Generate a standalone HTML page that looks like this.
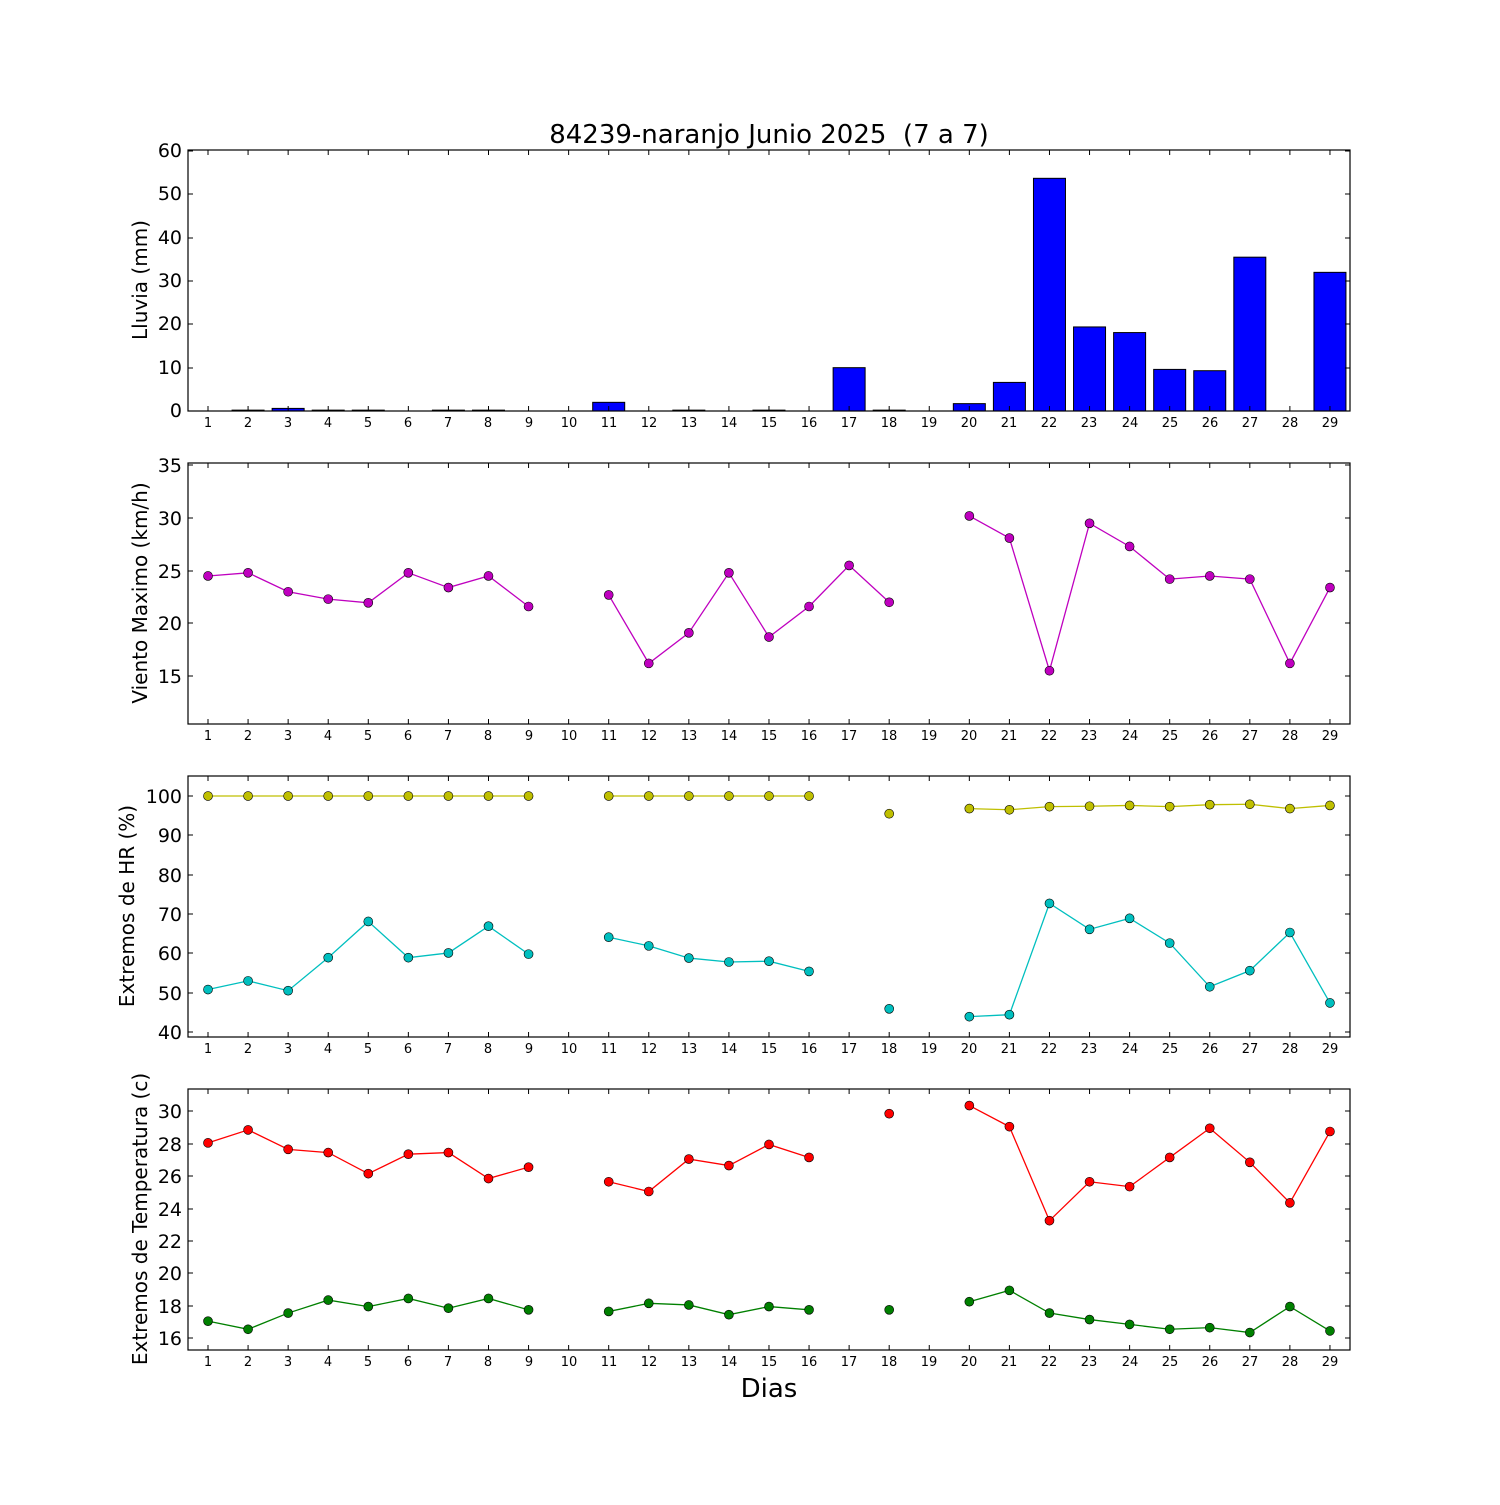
<!DOCTYPE html>
<html><head><meta charset="utf-8"><style>
html,body{margin:0;padding:0;background:#fff;}
svg text{font-family:"DejaVu Sans","Liberation Sans",sans-serif;fill:#000;}
.xt{font-size:13px;text-anchor:middle;}
.yt{font-size:19px;text-anchor:end;}
</style></head><body>
<svg id="s" width="1500" height="1500" xmlns="http://www.w3.org/2000/svg">
<rect width="1500" height="1500" fill="#fff"/>
<g id="data"></g>
<g fill="none" stroke="#000" stroke-width="1.2">
<rect x="188" y="150" width="1162" height="261"/>
<rect x="188" y="463" width="1162" height="261"/>
<rect x="188" y="776" width="1162" height="261"/>
<rect x="188" y="1089" width="1162" height="261"/>
</g>
<g id="ticks" stroke="#000" stroke-width="1"></g>
<text x="769" y="143" style="font-size:26px;white-space:pre" xml:space="preserve" text-anchor="middle">84239-naranjo Junio 2025  (7 a 7)</text>
<text x="769" y="1397" style="font-size:26px" text-anchor="middle">Dias</text>
<text transform="translate(147,280) rotate(-90)" style="font-size:20px" text-anchor="middle">Lluvia (mm)</text>
<text transform="translate(147,593) rotate(-90)" style="font-size:20px" text-anchor="middle">Viento Maximo (km/h)</text>
<text transform="translate(134,906) rotate(-90)" style="font-size:20px" text-anchor="middle">Extremos de HR (%)</text>
<text transform="translate(147,1219) rotate(-90)" style="font-size:20px" text-anchor="middle">Extremos de Temperatura (c)</text>
<g class="yt">
<text x="182" y="417">0</text><text x="182" y="374">10</text><text x="182" y="330">20</text><text x="182" y="287">30</text><text x="182" y="244">40</text><text x="182" y="200">50</text><text x="182" y="157">60</text>
<text x="182" y="683">15</text><text x="182" y="630">20</text><text x="182" y="578">25</text><text x="182" y="525">30</text><text x="182" y="472">35</text>
<text x="182" y="1039">40</text><text x="182" y="1000">50</text><text x="182" y="960">60</text><text x="182" y="921">70</text><text x="182" y="882">80</text><text x="182" y="842">90</text><text x="182" y="803">100</text>
<text x="182" y="1345">16</text><text x="182" y="1313">18</text><text x="182" y="1280">20</text><text x="182" y="1248">22</text><text x="182" y="1216">24</text><text x="182" y="1183">26</text><text x="182" y="1151">28</text><text x="182" y="1118">30</text>
</g>
<text class="xt" y="427"><tspan x="208">1</tspan><tspan x="248">2</tspan><tspan x="288">3</tspan><tspan x="328">4</tspan><tspan x="368">5</tspan><tspan x="408">6</tspan><tspan x="448">7</tspan><tspan x="488">8</tspan><tspan x="529">9</tspan><tspan x="569">10</tspan><tspan x="609">11</tspan><tspan x="649">12</tspan><tspan x="689">13</tspan><tspan x="729">14</tspan><tspan x="769">15</tspan><tspan x="809">16</tspan><tspan x="849">17</tspan><tspan x="889">18</tspan><tspan x="929">19</tspan><tspan x="969">20</tspan><tspan x="1009">21</tspan><tspan x="1049">22</tspan><tspan x="1089">23</tspan><tspan x="1130">24</tspan><tspan x="1170">25</tspan><tspan x="1210">26</tspan><tspan x="1250">27</tspan><tspan x="1290">28</tspan><tspan x="1330">29</tspan></text>
<text class="xt" y="740"><tspan x="208">1</tspan><tspan x="248">2</tspan><tspan x="288">3</tspan><tspan x="328">4</tspan><tspan x="368">5</tspan><tspan x="408">6</tspan><tspan x="448">7</tspan><tspan x="488">8</tspan><tspan x="529">9</tspan><tspan x="569">10</tspan><tspan x="609">11</tspan><tspan x="649">12</tspan><tspan x="689">13</tspan><tspan x="729">14</tspan><tspan x="769">15</tspan><tspan x="809">16</tspan><tspan x="849">17</tspan><tspan x="889">18</tspan><tspan x="929">19</tspan><tspan x="969">20</tspan><tspan x="1009">21</tspan><tspan x="1049">22</tspan><tspan x="1089">23</tspan><tspan x="1130">24</tspan><tspan x="1170">25</tspan><tspan x="1210">26</tspan><tspan x="1250">27</tspan><tspan x="1290">28</tspan><tspan x="1330">29</tspan></text>
<text class="xt" y="1053"><tspan x="208">1</tspan><tspan x="248">2</tspan><tspan x="288">3</tspan><tspan x="328">4</tspan><tspan x="368">5</tspan><tspan x="408">6</tspan><tspan x="448">7</tspan><tspan x="488">8</tspan><tspan x="529">9</tspan><tspan x="569">10</tspan><tspan x="609">11</tspan><tspan x="649">12</tspan><tspan x="689">13</tspan><tspan x="729">14</tspan><tspan x="769">15</tspan><tspan x="809">16</tspan><tspan x="849">17</tspan><tspan x="889">18</tspan><tspan x="929">19</tspan><tspan x="969">20</tspan><tspan x="1009">21</tspan><tspan x="1049">22</tspan><tspan x="1089">23</tspan><tspan x="1130">24</tspan><tspan x="1170">25</tspan><tspan x="1210">26</tspan><tspan x="1250">27</tspan><tspan x="1290">28</tspan><tspan x="1330">29</tspan></text>
<text class="xt" y="1366"><tspan x="208">1</tspan><tspan x="248">2</tspan><tspan x="288">3</tspan><tspan x="328">4</tspan><tspan x="368">5</tspan><tspan x="408">6</tspan><tspan x="448">7</tspan><tspan x="488">8</tspan><tspan x="529">9</tspan><tspan x="569">10</tspan><tspan x="609">11</tspan><tspan x="649">12</tspan><tspan x="689">13</tspan><tspan x="729">14</tspan><tspan x="769">15</tspan><tspan x="809">16</tspan><tspan x="849">17</tspan><tspan x="889">18</tspan><tspan x="929">19</tspan><tspan x="969">20</tspan><tspan x="1009">21</tspan><tspan x="1049">22</tspan><tspan x="1089">23</tspan><tspan x="1130">24</tspan><tspan x="1170">25</tspan><tspan x="1210">26</tspan><tspan x="1250">27</tspan><tspan x="1290">28</tspan><tspan x="1330">29</tspan></text>
</svg>
<script>
var NS="http://www.w3.org/2000/svg";
function el(p,t,a){var e=document.createElementNS(NS,t);for(var k in a)e.setAttribute(k,a[k]);p.appendChild(e);return e;}
var D=document.getElementById("data"),T=document.getElementById("ticks");
function X(d){return 208+40.07*(d-1);}
var N=null;
var rain=[0,0.2,0.6,0.2,0.2,0,0.2,0.2,0,0,2,0,0.2,0,0.2,0,10,0.2,0,1.7,6.6,53.7,19.4,18.1,9.6,9.3,35.5,0,32];
rain.forEach(function(v,i){if(v>0){var h=v*4.333;el(D,"rect",{x:X(i+1)-16,y:411-h,width:32,height:h,fill:"#0000ff",stroke:"#000","stroke-width":1});}});
var wind=[24.5,24.8,23,22.3,21.95,24.8,23.4,24.5,21.6,N,22.7,16.2,19.1,24.8,18.7,21.6,25.5,22,N,30.2,28.1,15.5,29.5,27.3,24.2,24.5,24.2,16.2,23.4];
var hmax=[100,100,100,100,100,100,100,100,100,N,100,100,100,100,100,100,N,95.5,N,96.8,96.5,97.3,97.4,97.6,97.3,97.8,97.9,96.8,97.6];
var hmin=[50.8,53,50.5,58.9,68.1,58.9,60.1,66.9,59.8,N,64.1,61.9,58.8,57.8,58,55.4,N,45.9,N,43.9,44.4,72.7,66.1,68.9,62.6,51.5,55.6,65.3,47.4];
var tmax=[28.1,28.9,27.7,27.5,26.2,27.4,27.5,25.9,26.6,N,25.7,25.1,27.1,26.7,28,27.2,N,29.9,N,30.4,29.1,23.3,25.7,25.4,27.2,29,26.9,24.4,28.8];
var tmin=[17.1,16.6,17.6,18.4,18,18.5,17.9,18.5,17.8,N,17.7,18.2,18.1,17.5,18,17.8,N,17.8,N,18.3,19,17.6,17.2,16.9,16.6,16.7,16.4,18,16.5];
function series(arr,fy,col){
 var seg=[];
 function flush(){if(seg.length>1)el(D,"polyline",{points:seg.join(" "),fill:"none",stroke:col,"stroke-width":1.3});seg=[];}
 arr.forEach(function(v,i){if(v===N){flush();}else seg.push(X(i+1)+","+fy(v));});flush();
 arr.forEach(function(v,i){if(v!==N)el(D,"circle",{cx:X(i+1),cy:fy(v),r:4.5,fill:col,stroke:"#000","stroke-width":0.6});});
}
series(wind,function(v){return 676-(v-15)*10.53;},"#bf00bf");
series(hmax,function(v){return 1032-(v-40)*3.933;},"#bfbf00");
series(hmin,function(v){return 1032-(v-40)*3.933;},"#00bfbf");
series(tmax,function(v){return 1339-(v-16)*16.21;},"#ff0000");
series(tmin,function(v){return 1339-(v-16)*16.21;},"#008000");
var panels=[[150,411,[411,368,324,281,238,194,151]],[463,724,[676,623,571,518,465]],[776,1037,[1032,993,953,914,875,835,796]],[1089,1350,[1338,1306,1273,1241,1209,1176,1144,1111]]];
panels.forEach(function(p){
 for(var d=1;d<=29;d++){var x=X(d);el(T,"line",{x1:x,y1:p[1],x2:x,y2:p[1]-5});el(T,"line",{x1:x,y1:p[0],x2:x,y2:p[0]+5});}
 p[2].forEach(function(y){el(T,"line",{x1:188,y1:y,x2:193,y2:y});el(T,"line",{x1:1350,y1:y,x2:1345,y2:y});});
});
</script>
</body></html>
